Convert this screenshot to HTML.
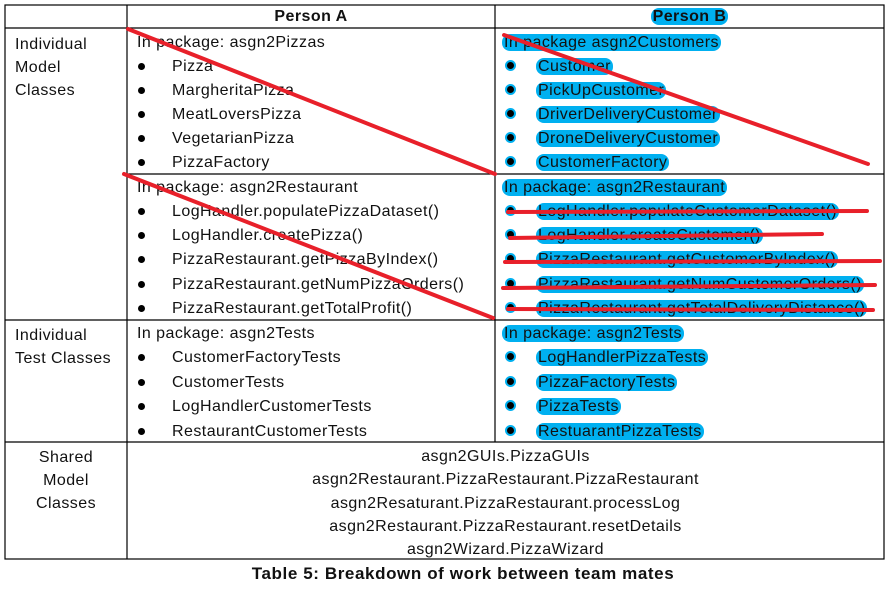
<!DOCTYPE html>
<html><head><meta charset="utf-8"><style>
body{margin:0;width:891px;height:589px;background:#fff;position:relative;overflow:hidden;font-family:"Liberation Sans",Arial,sans-serif;font-size:16px;letter-spacing:0.45px;color:#111}
.t{position:absolute;white-space:nowrap;line-height:19px}
.h{background:#00b0f0;border-radius:8px;padding:0 2px}
.b{position:absolute;width:7px;height:7px;border-radius:50%;background:#000}
.bb{position:absolute;width:7px;height:7px;border-radius:50%;background:#000;border:2px solid #00b0f0}
.c{position:absolute;text-align:center;white-space:nowrap;line-height:19px}
</style></head><body>
<svg width="891" height="589" style="position:absolute;left:0;top:0">
<g stroke="#000" stroke-width="1.2" fill="none">
<rect x="5" y="5" width="879" height="554"/>
<line x1="5" y1="28" x2="884" y2="28"/>
<line x1="127" y1="5" x2="127" y2="559"/>
<line x1="495" y1="5" x2="495" y2="442"/>
<line x1="127" y1="174" x2="884" y2="174"/>
<line x1="5" y1="320" x2="884" y2="320"/>
<line x1="5" y1="442" x2="884" y2="442"/>
</g></svg>
<div class="c" style="left:127px;width:368px;top:7px;font-weight:bold">Person A</div>
<div class="c" style="left:495px;width:389px;top:7px;font-weight:bold"><span class="h">Person B</span></div>
<div class="t" style="left:15px;top:33px;line-height:23px">Individual<br>Model<br>Classes</div>
<div class="t" style="left:15px;top:324px;line-height:23px">Individual<br>Test Classes</div>
<div class="c" style="left:5px;width:122px;top:446px;line-height:23px">Shared<br>Model<br>Classes</div>
<!-- Person A -->
<div class="t" style="left:137px;top:33px">In package: asgn2Pizzas</div>
<div class="t" style="left:172px;top:57px">Pizza</div>
<div class="t" style="left:172px;top:81px">MargheritaPizza</div>
<div class="t" style="left:172px;top:105px">MeatLoversPizza</div>
<div class="t" style="left:172px;top:129px">VegetarianPizza</div>
<div class="t" style="left:172px;top:153px">PizzaFactory</div>
<div class="t" style="left:137px;top:178px">In package: asgn2Restaurant</div>
<div class="t" style="left:172px;top:202px">LogHandler.populatePizzaDataset()</div>
<div class="t" style="left:172px;top:226px">LogHandler.createPizza()</div>
<div class="t" style="left:172px;top:250px">PizzaRestaurant.getPizzaByIndex()</div>
<div class="t" style="left:172px;top:275px">PizzaRestaurant.getNumPizzaOrders()</div>
<div class="t" style="left:172px;top:299px">PizzaRestaurant.getTotalProfit()</div>
<div class="t" style="left:137px;top:324px">In package: asgn2Tests</div>
<div class="t" style="left:172px;top:348px">CustomerFactoryTests</div>
<div class="t" style="left:172px;top:373px">CustomerTests</div>
<div class="t" style="left:172px;top:397px">LogHandlerCustomerTests</div>
<div class="t" style="left:172px;top:422px">RestaurantCustomerTests</div>
<div class="b" style="left:138px;top:63px"></div><div class="b" style="left:138px;top:87px"></div><div class="b" style="left:138px;top:111px"></div><div class="b" style="left:138px;top:135px"></div><div class="b" style="left:138px;top:159px"></div>
<div class="b" style="left:138px;top:208px"></div><div class="b" style="left:138px;top:232px"></div><div class="b" style="left:138px;top:256px"></div><div class="b" style="left:138px;top:281px"></div><div class="b" style="left:138px;top:305px"></div>
<div class="b" style="left:138px;top:354px"></div><div class="b" style="left:138px;top:379px"></div><div class="b" style="left:138px;top:403px"></div><div class="b" style="left:138px;top:428px"></div>
<!-- Person B -->
<div class="t" style="left:502px;top:33px"><span class="h">In package asgn2Customers</span></div>
<div class="t" style="left:536px;top:57px"><span class="h">Customer</span></div>
<div class="t" style="left:536px;top:81px"><span class="h">PickUpCustomer</span></div>
<div class="t" style="left:536px;top:105px"><span class="h">DriverDeliveryCustomer</span></div>
<div class="t" style="left:536px;top:129px"><span class="h">DroneDeliveryCustomer</span></div>
<div class="t" style="left:536px;top:153px"><span class="h">CustomerFactory</span></div>
<div class="t" style="left:502px;top:178px"><span class="h">In package: asgn2Restaurant</span></div>
<div class="t" style="left:536px;top:202px"><span class="h">LogHandler.populateCustomerDataset()</span></div>
<div class="t" style="left:536px;top:226px"><span class="h">LogHandler.createCustomer()</span></div>
<div class="t" style="left:536px;top:250px"><span class="h">PizzaRestaurant.getCustomerByIndex()</span></div>
<div class="t" style="left:536px;top:275px"><span class="h">PizzaRestaurant.getNumCustomerOrders()</span></div>
<div class="t" style="left:536px;top:299px"><span class="h">PizzaRestaurant.getTotalDeliveryDistance()</span></div>
<div class="t" style="left:502px;top:324px"><span class="h">In package: asgn2Tests</span></div>
<div class="t" style="left:536px;top:348px"><span class="h">LogHandlerPizzaTests</span></div>
<div class="t" style="left:536px;top:373px"><span class="h">PizzaFactoryTests</span></div>
<div class="t" style="left:536px;top:397px"><span class="h">PizzaTests</span></div>
<div class="t" style="left:536px;top:422px"><span class="h">RestuarantPizzaTests</span></div>
<div class="bb" style="left:505px;top:60px"></div><div class="bb" style="left:505px;top:84px"></div><div class="bb" style="left:505px;top:108px"></div><div class="bb" style="left:505px;top:132px"></div><div class="bb" style="left:505px;top:156px"></div>
<div class="bb" style="left:505px;top:205px"></div><div class="bb" style="left:505px;top:229px"></div><div class="bb" style="left:505px;top:253px"></div><div class="bb" style="left:505px;top:278px"></div><div class="bb" style="left:505px;top:302px"></div>
<div class="bb" style="left:505px;top:351px"></div><div class="bb" style="left:505px;top:376px"></div><div class="bb" style="left:505px;top:400px"></div><div class="bb" style="left:505px;top:425px"></div>
<!-- Shared -->
<div class="c" style="left:127px;width:757px;top:445px;line-height:23.3px">asgn2GUIs.PizzaGUIs<br>asgn2Restaurant.PizzaRestaurant.PizzaRestaurant<br>asgn2Resaturant.PizzaRestaurant.processLog<br>asgn2Restaurant.PizzaRestaurant.resetDetails<br>asgn2Wizard.PizzaWizard</div>
<div class="c" style="left:0;width:926px;top:564px;font-weight:bold;font-size:17px;letter-spacing:0.6px">Table 5: Breakdown of work between team mates</div>
<svg width="891" height="589" style="position:absolute;left:0;top:0">
<g stroke="#e8202a" stroke-width="4" stroke-linecap="round">
<line x1="128" y1="29" x2="495" y2="174"/>
<line x1="124" y1="174" x2="493" y2="318"/>
<line x1="504" y1="35" x2="868" y2="164"/>
<line x1="508" y1="212" x2="867" y2="211"/>
<line x1="510" y1="238" x2="822" y2="234"/>
<line x1="505" y1="262" x2="880" y2="261"/>
<line x1="503" y1="288" x2="875" y2="285"/>
<line x1="508" y1="309" x2="873" y2="310"/>
</g></svg>
</body></html>
